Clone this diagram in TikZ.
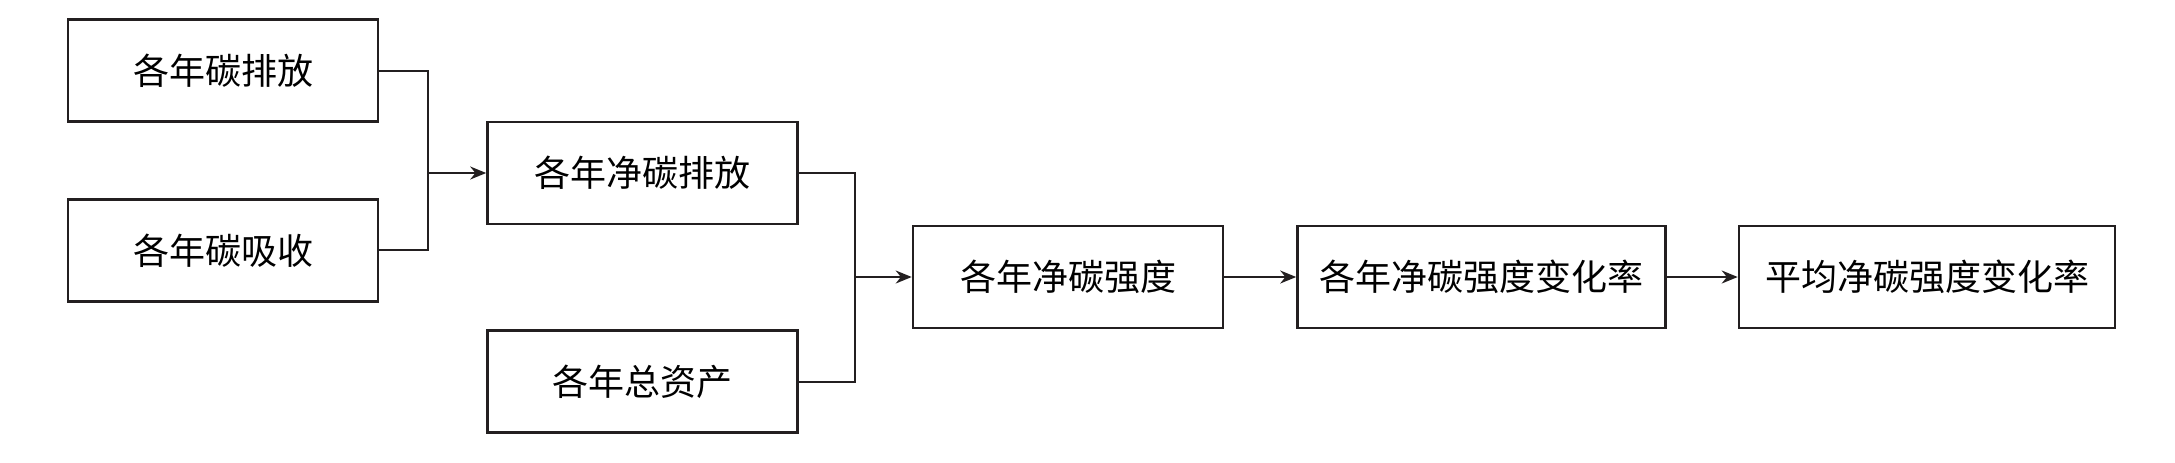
\documentclass[tikz,border=0pt]{standalone}
\usepackage{fontspec}
\setmainfont{Noto Sans CJK SC}
\usetikzlibrary{arrows.meta}
\begin{document}
\begin{tikzpicture}[x=0.5pt, y=-0.5pt,
  box/.style={draw, line width=1.3pt, minimum height=51pt, inner sep=0pt, font=\fontsize{18pt}{20pt}\selectfont},
  link/.style={line width=1pt},
  arr/.style={line width=1pt, -{Stealth[length=8pt, width=6.5pt]}}]
\definecolor{ink}{HTML}{231F20}
\useasboundingbox (0,0) rectangle (2175,462);
\node[box, ink, text=black, minimum width=155pt] (emit) at (223, 70.5) {各年碳排放};
\node[box, ink, text=black, minimum width=155pt] (absorb) at (223, 250.3) {各年碳吸收};
\node[box, ink, text=black, minimum width=155pt] (netemit) at (642.5, 173) {各年净碳排放};
\node[box, ink, text=black, minimum width=155pt] (assets) at (642.5, 381.7) {各年总资产};
\node[box, ink, text=black, minimum width=155pt] (intensity) at (1068, 277) {各年净碳强度};
\node[box, ink, text=black, minimum width=184pt] (rate) at (1481.5, 277) {各年净碳强度变化率};
\node[box, ink, text=black, minimum width=188pt] (avgrate) at (1927, 277) {平均净碳强度变化率};
\coordinate (j1) at (428, 173);
\coordinate (j2) at (855, 277);
\draw[link, ink] (emit.east) -| (j1) |- (absorb.east);
\draw[arr, ink] (j1) -- (netemit.west);
\draw[link, ink] (netemit.east) -| (j2) |- (assets.east);
\draw[arr, ink] (j2) -- (intensity.west);
\draw[arr, ink] (intensity) -- (rate);
\draw[arr, ink] (rate) -- (avgrate);
\end{tikzpicture}
\end{document}
